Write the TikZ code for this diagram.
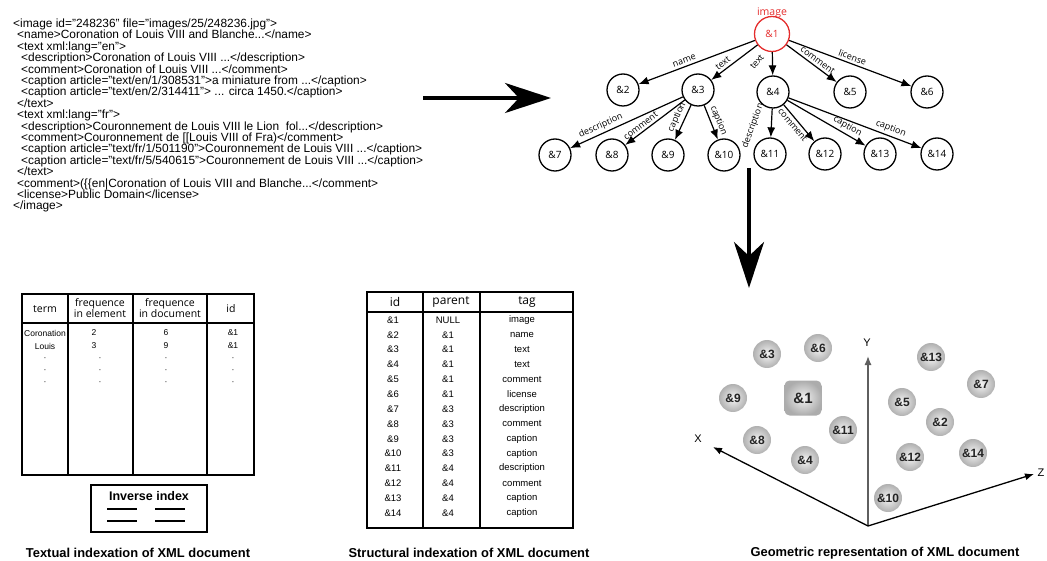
\documentclass[tikz,border=0pt]{standalone}
\usepackage{fontspec}
\setmainfont{Liberation Sans}
\newfontfamily\osans{Open Sans}
\usetikzlibrary{arrows.meta}
\definecolor{imgred}{RGB}{228,45,45}
\definecolor{axgray}{RGB}{95,95,95}
\definecolor{balltxt}{RGB}{35,35,35}
\newcommand{\fs}[1]{\fontsize{#1}{#1}\selectfont}
\begin{document}
\begin{tikzpicture}[x=1pt,y=-1pt,
  xl/.style={anchor=base west,inner sep=0pt,font=\fs{11.9}},
  tn/.style={circle,draw,line width=1.3pt,minimum size=32pt,inner sep=0pt,font=\osans\fs{10}},
  te/.style={-{Latex[length=10pt,width=8pt]},line width=1.2pt},
  el/.style={sloped,above,inner sep=2.5pt,font=\osans\fs{9}},
  bigarrow/.style={line width=3.6pt,-{Stealth[length=46pt,width=30pt,inset=14pt]}},
  tb/.style={line width=1.3pt},
  hd/.style={inner sep=0pt,font=\osans\fs{12}},
  lhd/.style={inner sep=0pt,align=center,font=\osans\fontsize{10.5}{10.5}\selectfont},
  td/.style={inner sep=0pt,font=\fs{9.5}},
  ltd/.style={inner sep=0pt,font=\fs{8.5}},
  captxt/.style={inner sep=0pt,font=\bfseries\fs{12.9}},
  gball/.style={circle,minimum size=28pt,inner sep=0pt,inner color=gray!8,outer color=gray!62,text=balltxt,font=\bfseries\fs{12}},
  axarrow/.style={line width=1.3pt,-{Latex[length=9pt,width=7pt]}},
]
\useasboundingbox (0,0) rectangle (1047,561);

% ---------------- XML listing ----------------
\node[xl] (x1)  at (13,27.5)  {<image id="248236" file="images/25/248236.jpg">};
\node[xl] (x2)  at (17,38.9)  {<name>Coronation of Louis VIII and Blanche...</name>};
\node[xl] (x3)  at (17,50.3)  {<text xml:lang="en">};
\node[xl] (x4)  at (21,61.7)  {<description>Coronation of Louis VIII ...</description>};
\node[xl] (x5)  at (21,73.1)  {<comment>Coronation of Louis VIII ...</comment>};
\node[xl] (x6)  at (21,84.5)  {<caption article="text/en/1/308531">a miniature from ...</caption>};
\node[xl] (x7)  at (21,95.9)  {<caption article="text/en/2/314411"> ... circa 1450.</caption>};
\node[xl] (x8)  at (17,107.3) {</text>};
\node[xl] (x9)  at (17,118.7) {<text xml:lang="fr">};
\node[xl] (x10) at (21,130.1) {<description>Couronnement de Louis VIII le Lion\ \ fol...</description>};
\node[xl] (x11) at (21,141.5) {<comment>Couronnement de [[Louis VIII of Fra)</comment>};
\node[xl] (x12) at (21,152.9) {<caption article="text/fr/1/501190">Couronnement de Louis VIII ...</caption>};
\node[xl] (x13) at (21,164.3) {<caption article="text/fr/5/540615">Couronnement de Louis VIII ...</caption>};
\node[xl] (x14) at (17,175.7) {</text>};
\node[xl] (x15) at (17,187.1) {<comment>(\{\{en|Coronation of Louis VIII and Blanche...</comment>};
\node[xl] (x16) at (17,198.5) {<license>Public Domain</license>};
\node[xl] (x17) at (13,209.9) {</image>};

% ---------------- big arrows ----------------
\coordinate (ha) at (423,98);
\coordinate (hb) at (551,98);
\draw[bigarrow] (ha) -- (hb);
\coordinate (va) at (749,168);
\coordinate (vb) at (749,288);
\draw[bigarrow] (va) -- (vb);

% ---------------- tree ----------------
\node[tn,draw=imgred,text=imgred,minimum size=35pt] (n1) at (772,34) {\&1};
\node[inner sep=0pt,text=imgred,font=\osans\fs{10.5}] (limg) at (772,13) {image};
\node[tn] (n2)  at (623,90)  {\&2};
\node[tn] (n3)  at (698,90)  {\&3};
\node[tn] (n4)  at (773,92)  {\&4};
\node[tn] (n5)  at (850,92)  {\&5};
\node[tn] (n6)  at (927,92)  {\&6};
\node[tn] (n7)  at (555,155) {\&7};
\node[tn] (n8)  at (612,155) {\&8};
\node[tn] (n9)  at (668,155) {\&9};
\node[tn] (n10) at (724,155) {\&10};
\node[tn] (n11) at (770,154) {\&11};
\node[tn] (n12) at (825,154) {\&12};
\node[tn] (n13) at (880,154) {\&13};
\node[tn] (n14) at (937,154) {\&14};

\draw[te] (n1) -- node[el,pos=.59] {name} (n2);
\draw[te] (n1) -- node[el,pos=.67] {text} (n3);
\draw[te] (n1) -- (n4);
\node[inner sep=0pt,font=\osans\fs{9},rotate=50] (lt4) at (757,62) {text};
\draw[te] (n1) -- node[el,pos=.55] {comment} (n5);
\draw[te] (n1) -- node[el,pos=.5] {license} (n6);
\draw[te] (n3) -- node[el,pos=.70] {description} (n7);
\draw[te] (n3) -- node[el,pos=.68] {comment} (n8);
\draw[te] (n3) -- node[el,pos=.44] {caption} (n9);
\draw[te] (n3) -- node[el,pos=.53] {caption} (n10);
\draw[te] (n4) -- (n11);
\node[inner sep=0pt,font=\osans\fs{9},rotate=70] (ld11) at (753,126) {description};
\draw[te] (n4) -- node[el,below,pos=.45] {comment} (n12);
\draw[te] (n4) -- node[el,pos=.72] {caption} (n13);
\draw[te] (n4) -- node[el,pos=.75] {caption} (n14);

% ---------------- textual indexation table ----------------
\draw[tb] (22,294) rectangle (254,475);
\draw[tb] (68,294) -- (68,475);
\draw[tb] (133,294) -- (133,475);
\draw[tb] (207,294) -- (207,475);
\draw[line width=1.6pt] (22,323) -- (254,323);
\node[lhd] (lh1) at (45,309) {term};
\node[lhd] (lh2) at (100,308) {frequence\\in element};
\node[lhd] (lh3) at (170,308) {frequence\\in document};
\node[lhd] (lh4) at (231,309) {id};
\node[ltd] (l11) at (45,333) {Coronation};
\node[ltd] (l12) at (94,333) {2};
\node[ltd] (l13) at (166,333) {6};
\node[ltd] (l14) at (233,333) {\&1};
\node[ltd] (l21) at (45,346) {Louis};
\node[ltd] (l22) at (94,346) {3};
\node[ltd] (l23) at (166,346) {9};
\node[ltd] (l24) at (233,346) {\&1};
\foreach \yy [count=\k] in {359,371,383}{
  \node[ltd] (ld\k a) at (45,\yy) {·};
  \node[ltd] (ld\k b) at (100,\yy) {·};
  \node[ltd] (ld\k c) at (166,\yy) {·};
  \node[ltd] (ld\k d) at (233,\yy) {·};
}
\draw[tb] (91,485) rectangle (207,532);
\node[inner sep=0pt,font=\bfseries\fs{12.5}] (inv) at (149,496) {Inverse index};
\draw[line width=1.2pt] (107,509) -- (137,509);
\draw[line width=1.2pt] (155,509) -- (185,509);
\draw[line width=1.2pt] (107,521) -- (137,521);
\draw[line width=1.2pt] (155,521) -- (185,521);
\node[captxt] (c1) at (138,553) {Textual indexation of XML document};

% ---------------- structural indexation table ----------------
\draw[tb] (367,292) rectangle (573,528);
\draw[tb] (423,292) -- (423,528);
\draw[tb] (480,292) -- (480,528);
\draw[line width=1.6pt] (367,312) -- (573,312);
\node[hd] (mh1) at (395,302) {id};
\node[hd] (mh2) at (451,302) {parent};
\node[hd] (mh3) at (527,302) {tag};
\foreach \ii/\pa/\tg [count=\k from 0] in {\&1/NULL/image,\&2/\&1/name,\&3/\&1/text,\&4/\&1/text,\&5/\&1/comment,\&6/\&1/license,\&7/\&3/description,\&8/\&3/comment,\&9/\&3/caption,\&10/\&3/caption,\&11/\&4/description,\&12/\&4/comment,\&13/\&4/caption,\&14/\&4/caption}{
  \pgfmathsetmacro\yy{320+14.85*\k}
  \node[td] (mi\k) at (393,\yy) {\ii};
  \node[td] (mp\k) at (448,\yy) {\pa};
  \node[td] (mt\k) at (522,\yy) {\tg};
}
\node[captxt] (c2) at (469,553) {Structural indexation of XML document};

% ---------------- geometric representation ----------------
\coordinate (o) at (868,526);
\coordinate (yt) at (868,356);
\coordinate (xt) at (713,447);
\coordinate (zt) at (1034,474);
\draw[axarrow,draw=axgray,fill=axgray] (o) -- (yt);
\draw[axarrow] (o) -- (xt);
\draw[axarrow] (o) -- (zt);
\node[inner sep=0pt,font=\fs{11}] (ly) at (867,343) {Y};
\node[inner sep=0pt,font=\fs{11}] (lx) at (698,439) {X};
\node[inner sep=0pt,font=\fs{11}] (lz) at (1041,473) {Z};

\node[gball] (g3)  at (767,354) {\&3};
\node[gball] (g6)  at (818,348) {\&6};
\node[gball] (g13) at (931,357) {\&13};
\node[gball] (g7)  at (981,384) {\&7};
\node[gball] (g9)  at (733,398) {\&9};
\node[gball] (g5)  at (902,402) {\&5};
\node[gball] (g11) at (843,430) {\&11};
\node[gball] (g8)  at (757,440) {\&8};
\node[gball] (g4)  at (805,460) {\&4};
\node[gball] (g2)  at (940,422) {\&2};
\node[gball] (g12) at (910,457) {\&12};
\node[gball] (g14) at (973,453) {\&14};
\node[gball] (g10) at (888,498) {\&10};
\node[rectangle,rounded corners=5pt,minimum width=37pt,minimum height=35pt,inner sep=0pt,inner color=gray!10,outer color=gray!65,text=balltxt,font=\bfseries\fs{15}] (g1) at (803,398) {\&1};
\node[captxt] (c3) at (885,553) {Geometric representation of XML document};
\end{tikzpicture}
\end{document}
